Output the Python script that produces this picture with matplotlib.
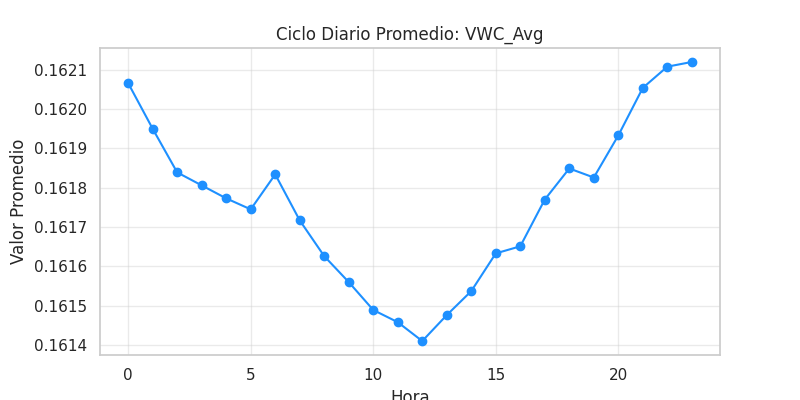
import matplotlib
matplotlib.use("Agg")
import matplotlib.pyplot as plt
import seaborn as sns
from matplotlib.ticker import FormatStrFormatter

sns.set_theme(style="whitegrid")

horas = list(range(24))
vwc_avg = [0.162066, 0.161950, 0.161839, 0.161806, 0.161773, 0.161745,
           0.161834, 0.161717, 0.161626, 0.161560, 0.161489, 0.161458,
           0.161410, 0.161476, 0.161537, 0.161633, 0.161651, 0.161770,
           0.161849, 0.161826, 0.161933, 0.162054, 0.162108, 0.162120]

fig, ax = plt.subplots(figsize=(8, 4), dpi=100)
fig.subplots_adjust(left=0.125, right=0.9, top=0.88, bottom=0.1125)

ax.plot(horas, vwc_avg, marker='o', color='dodgerblue', markersize=6, linewidth=1.5)
ax.set_title("Ciclo Diario Promedio: VWC_Avg")
ax.set_xlabel("Hora")
ax.set_ylabel("Valor Promedio")
ax.yaxis.set_major_formatter(FormatStrFormatter('%.4f'))
ax.set_xticks([0, 5, 10, 15, 20])
ax.grid(True, alpha=0.4)

fig.savefig("out.png", dpi=100)
